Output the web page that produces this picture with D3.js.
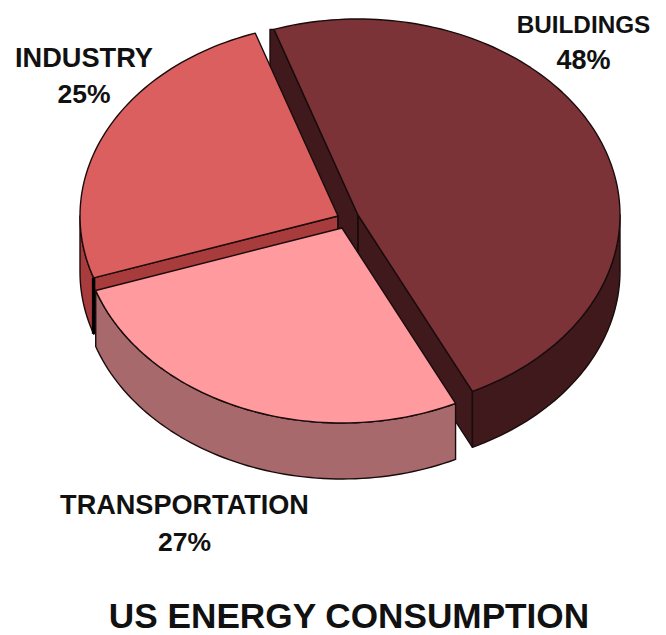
<!DOCTYPE html>
<html><head><meta charset="utf-8">
<script src="https://cdn.jsdelivr.net/npm/d3@7"></script>
<style>html,body{margin:0;padding:0;background:#fff}svg{display:block}
text{font-family:"Liberation Sans",Arial,sans-serif;font-weight:bold;fill:#111;text-anchor:middle}</style>
</head><body><svg id="c" width="666" height="635"></svg>
<script>
const categories = ["BUILDINGS","TRANSPORTATION","INDUSTRY"];
const shares = [48,27,25];
const shareLabels = ["48%","27%","25%"];
const title = "US ENERGY CONSUMPTION";
const topColors = ["#7c3337","#ff9a9e","#dc5f60"];
const sideColors = ["#3f191b","#a8696d","#a83b3c"];

const W=666,H=635, DEPTH=56;
const startDeg=-18.7;
const centers=[[358,215],[342,228],[338,216]];
const radiusX=[262,260,258];
const radiusY=[196,195,193];
// x, baseline of name, baseline of share, size of name, size of share
const labelPos=[[583.5,33,69,24.3,27],[184.5,514,551,27.1,26.5],[84,67,103,27.2,26.5]];

const svg=d3.select("#c");
svg.append("rect").attr("width",W).attr("height",H).attr("fill","#fff");
const pie=d3.pie().sort(null).value(d=>d).startAngle(startDeg*Math.PI/180).endAngle((startDeg+360)*Math.PI/180);
const arcs=pie(shares);
const line=d3.line();
const g=svg.append("g").attr("stroke","#1a0c0c").attr("stroke-width",1.4).attr("stroke-linejoin","round");

function pt(i,t,dy=0){return [centers[i][0]+radiusX[i]*Math.sin(t),centers[i][1]-radiusY[i]*Math.cos(t)+dy];}
function rim(i,a0,a1,dy=0){const n=Math.max(2,Math.ceil(Math.abs(a1-a0)*40));
  return d3.range(n+1).map(k=>pt(i,a0+(a1-a0)*k/n,dy));}
function poly(p,fill){return g.append("path").attr("d",line(p)+"Z").attr("fill",fill);}
const dn=p=>[p[0],p[1]+DEPTH];

function drawWall(i){
  const a=arcs[i];
  const lo=Math.max(a.startAngle,Math.PI/2), hi=Math.min(a.endAngle,3*Math.PI/2);
  if(hi>lo) poly(rim(i,lo,hi).concat(rim(i,hi,lo,DEPTH)),sideColors[i]);
}
function drawTop(i){
  const a=arcs[i], c=centers[i];
  g.append("path").attr("d",line([c,dn(c)])).attr("fill","none");
  poly([c].concat(rim(i,a.startAngle,a.endAngle)),topColors[i]);
}
// BUILDINGS: both cut faces
{
  const a=arcs[0], c=centers[0], ps=pt(0,a.startAngle), pe=pt(0,a.endAngle);
  const back=[ps[0]-4,ps[1]];
  poly([back,ps,c,dn(c),dn(back)],sideColors[0]);
  poly([pe,c,dn(c),dn(pe)],sideColors[0]);
  drawWall(0); drawTop(0);
}
// INDUSTRY: only the cut facing the viewer
{
  const a=arcs[2], c=centers[2], ps=pt(2,a.startAngle);
  drawWall(2);
  poly([ps,c,dn(c),dn(ps)],sideColors[2]);
  drawTop(2);
  g.append("path").attr("d",line([ps,dn(ps)])).attr("fill","none").attr("stroke","#000").attr("stroke-width",3.5);
}
// TRANSPORTATION in front
drawWall(1); drawTop(1);

categories.forEach((cat,i)=>{
  const [x,y1,y2,fs,fp]=labelPos[i];
  svg.append("text").attr("x",x).attr("y",y1).attr("font-size",fs).text(cat);
  svg.append("text").attr("x",x).attr("y",y2).attr("font-size",fp).text(shareLabels[i]);
});
svg.append("text").attr("x",349).attr("y",628).attr("font-size",35.2).text(title);
</script></body></html>
